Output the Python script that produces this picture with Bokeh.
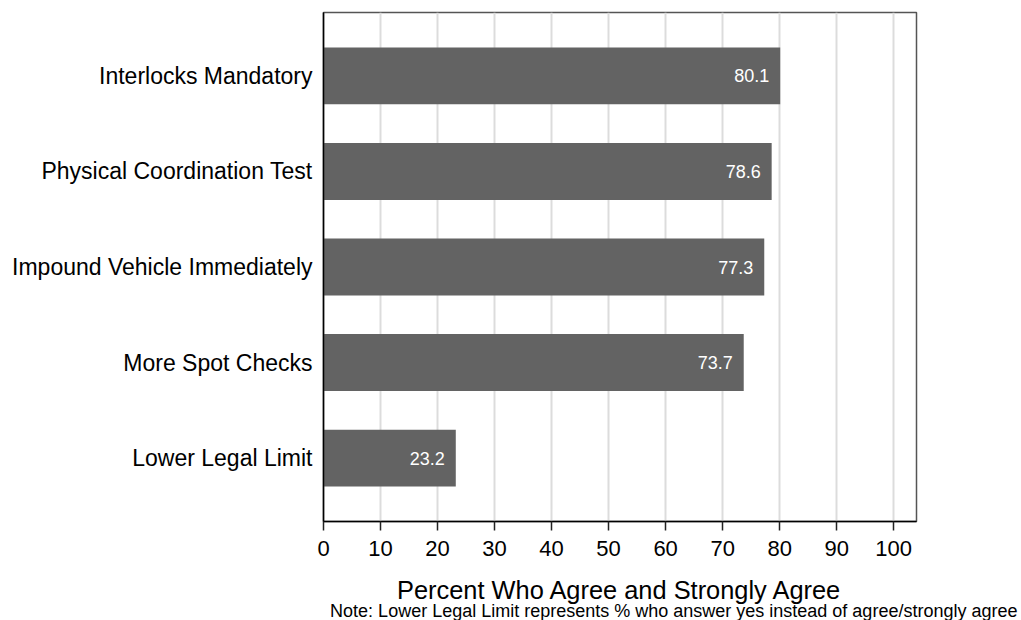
from bokeh.plotting import figure
from bokeh.models import FactorRange, Range1d, SingleIntervalTicker, Title, ColumnDataSource
from bokeh.core.properties import value
from bokeh.embed import file_html
from bokeh.resources import INLINE

# Data (top to bottom as shown)
categories = ["Interlocks Mandatory", "Physical Coordination Test",
              "Impound Vehicle Immediately", "More Spot Checks", "Lower Legal Limit"]
percent = [80.1, 78.6, 77.3, 73.7, 23.2]
bar_labels = ["80.1", "78.6", "77.3", "73.7", "23.2"]
x_title = "Percent Who Agree and Strongly Agree"
note = "Note: Lower Legal Limit represents % who answer yes instead of agree/strongly agree"

FONT = "Liberation Sans"

factors = list(reversed(categories))
src = ColumnDataSource(dict(cat=categories, val=percent, lab=bar_labels))

W, H = 1021, 620
p = figure(width=W, height=H, output_backend="svg", toolbar_location=None,
           y_range=FactorRange(factors=factors, range_padding=0.163,
                               range_padding_units="absolute"),
           x_range=Range1d(0, 104),
           min_border_left=323, min_border_right=W - 916, min_border_top=12,
           min_border_bottom=H - 521)

p.hbar(y="cat", right="val", left=0, height=0.596, source=src,
       fill_color="#636363", line_color=None)

p.text(x="val", y="cat", text="lab", source=src, x_offset=-11,
       text_align="right", text_baseline="middle", text_color="white",
       text_font=value(FONT), text_font_size="18px")

# Axes styling
p.xaxis.ticker = SingleIntervalTicker(interval=10)
p.xaxis.axis_label = x_title
p.xaxis.axis_label_text_font = FONT
p.xaxis.axis_label_text_font_style = "normal"
p.xaxis.axis_label_text_font_size = "25.4px"
p.xaxis.axis_label_text_color = "black"
p.xaxis.axis_label_standoff = 17
p.xaxis.major_label_text_font = FONT
p.xaxis.major_label_text_font_size = "22px"
p.xaxis.major_label_text_color = "black"
p.xaxis.major_label_standoff = 10
p.xaxis.major_tick_out = 9
p.xaxis.major_tick_in = 0
p.xaxis.minor_tick_out = 0
p.xaxis.minor_tick_in = 0
p.xaxis.axis_line_color = "black"
p.xaxis.axis_line_width = 1.5
p.xaxis.major_tick_line_color = "#222222"
p.xaxis.major_tick_line_width = 1.5

p.yaxis.major_label_text_font = FONT
p.yaxis.major_label_text_font_size = "23px"
p.yaxis.major_label_text_color = "black"
p.yaxis.major_label_standoff = 11
p.yaxis.major_tick_out = 0
p.yaxis.major_tick_in = 0
p.yaxis.minor_tick_out = 0
p.yaxis.axis_line_color = "black"
p.yaxis.axis_line_width = 1.5

p.ygrid.grid_line_color = None
p.xgrid.grid_line_color = "#dcdcdc"
p.xgrid.grid_line_width = 2

p.outline_line_color = "#555555"
p.outline_line_width = 1.5
p.background_fill_color = "white"
p.border_fill_color = "white"

p.add_layout(Title(text=note, align="left", offset=6.6, standoff=-11,
                   vertical_align="top",
                   text_font=FONT, text_font_size="18px", text_color="black",
                   text_font_style="normal"), "below")

open("out.html", "w").write(file_html(p, INLINE))
